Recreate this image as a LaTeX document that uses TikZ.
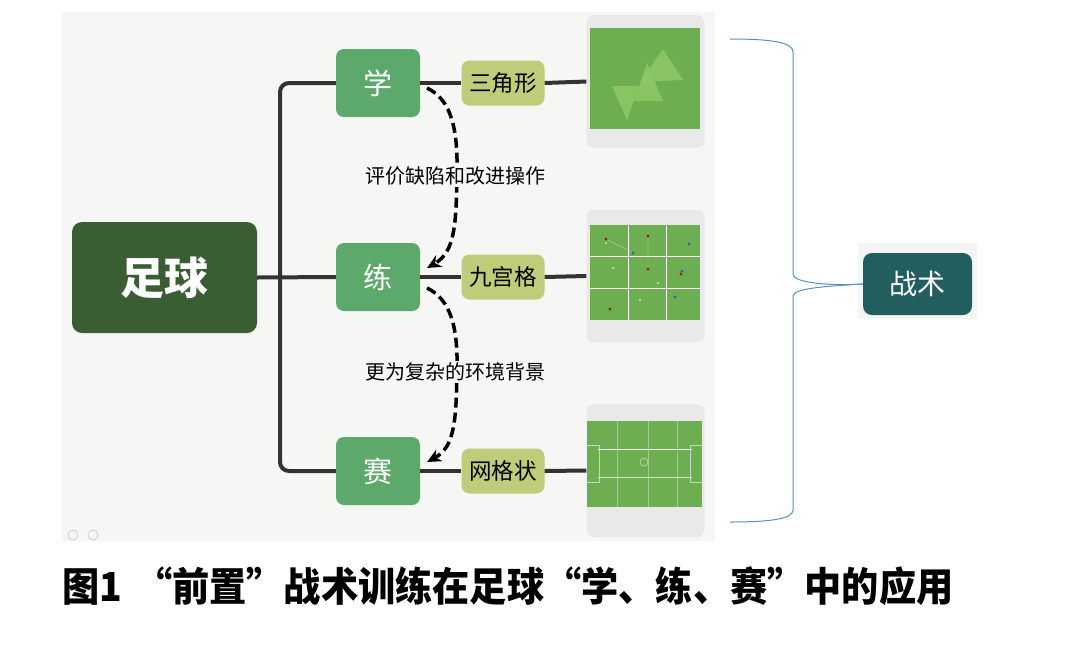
\documentclass[tikz,border=0pt]{standalone}
\usepackage{fontspec}
\setmainfont{Noto Sans CJK SC}
\newfontfamily\cjk{Noto Sans CJK SC}
\usetikzlibrary{arrows.meta}
\definecolor{canvas}{HTML}{F6F6F5}
\definecolor{rootg}{HTML}{3A5D33}
\definecolor{midg}{HTML}{5CA96B}
\definecolor{limeg}{HTML}{C1CC7A}
\definecolor{tealc}{HTML}{235E5E}
\definecolor{linec}{HTML}{333333}
\definecolor{cardc}{HTML}{E9E9E9}
\definecolor{fieldc}{HTML}{6DAE51}
\definecolor{trig}{HTML}{8DC866}
\definecolor{bracec}{HTML}{5B8FC9}
\definecolor{redp}{HTML}{7A2E2A}
\definecolor{bluep}{HTML}{3C5FA0}
\tikzset{
  x=1pt,y=-1pt,
  rootbox/.style={fill=rootg,rounded corners=10pt,minimum width=185pt,minimum height=111pt,text=white,font=\cjk\fontsize{44}{48}\selectfont\bfseries,inner sep=0pt},
  greenbox/.style={fill=midg,rounded corners=8pt,minimum width=84pt,minimum height=68pt,text=white,font=\cjk\fontsize{29}{32}\selectfont,inner sep=0pt},
  limebox/.style={fill=limeg,rounded corners=8pt,minimum width=83pt,minimum height=45pt,text=black,font=\cjk\fontsize{22.5}{24}\selectfont,inner sep=0pt},
  tealbox/.style={fill=tealc,rounded corners=9pt,minimum width=109pt,minimum height=62pt,text=white,font=\cjk\fontsize{28}{30}\selectfont,inner sep=0pt},
  cardbox/.style={fill=cardc,rounded corners=8pt,minimum width=118pt,minimum height=133pt,inner sep=0pt},
  conn/.style={draw=linec,line width=4pt},
  dasharrow/.style={draw=black,line width=3.5pt,dash pattern=on 10pt off 5pt,-{Stealth[length=14pt,width=13pt]}},
  lbl/.style={fill=canvas,text=black,font=\cjk\fontsize{20}{22}\selectfont,inner sep=2pt},
  bracel/.style={draw=bracec,line width=1pt},
  wline/.style={draw=white,line width=0.9pt},
}
\begin{document}
\begin{tikzpicture}
\useasboundingbox (0,0) rectangle (1069,649);
\fill[white] (0,0) rectangle (1069,649);
% canvas
\fill[canvas] (62,12) rectangle (715,541);
\draw[gray!40,line width=0.8pt] (73,535) circle (5);
\draw[gray!40,line width=0.8pt] (93,535) circle (5);

% main nodes
\node[rootbox] (root) at (164.5,277.5) {足球};
\node[greenbox] (xue) at (378,83) {学};
\node[greenbox] (lian) at (378,277) {练};
\node[greenbox] (sai) at (378,471) {赛};
\node[limebox] (tri) at (503,83) {三角形};
\node[limebox] (nine) at (503,277) {九宫格};
\node[limebox] (grid) at (503,471) {网格状};

% cards
\node[cardbox] (card1) at (645.5,81.5) {};
\node[cardbox] (card2) at (645.5,276) {};
\node[cardbox] (card3) at (645.5,470.5) {};

% card 1 field with triangles
\fill[fieldc] (590,28) rectangle (700,129);
\fill[trig,opacity=0.85] (663,49) -- (640,82) -- (683,80) -- cycle;
\fill[trig,opacity=0.85] (647,63) -- (634,101) -- (663,101) -- cycle;
\fill[trig,opacity=0.85] (612,86) -- (639,86) -- (627,120) -- cycle;

% card 2 field: nine grid
\fill[fieldc] (590,225) rectangle (700,320);
\draw[wline] (628,225) -- (628,320);
\draw[wline] (666,225) -- (666,320);
\draw[wline] (590,256) -- (700,256);
\draw[wline] (590,288) -- (700,288);
\draw[white,opacity=0.5,line width=0.4pt] (648,236) -- (648,269) (606,239) -- (633,253);
\foreach \p in {(606,239),(648,236),(648,269),(681,274),(610,309)} \fill[redp] \p circle (1.6);
\foreach \p in {(689,244),(633,253),(682,271),(675,297)} \fill[bluep] \p circle (1.6);
\foreach \p in {(613,268),(658,283),(640,300),(606,243)} \fill[white,opacity=0.8] \p circle (1);

% card 3 field: pitch
\fill[fieldc] (587,421) rectangle (702,507);
\draw[white,opacity=0.35,line width=0.6pt] (617,421) -- (617,507) (648,421) -- (648,507) (677,421) -- (677,507);
\draw[white,line width=0.9pt] (598,449) -- (692,449);
\draw[white,opacity=0.7,line width=0.7pt] (598,477) -- (692,477);
\draw[white,opacity=0.6,line width=0.6pt] (644,462) circle (4);
\draw[white,opacity=0.6,line width=0.6pt] (587,445) -- (599,445) -- (599,482) -- (587,482);
\draw[white,opacity=0.6,line width=0.6pt] (702,445) -- (690,445) -- (690,482) -- (702,482);

% connectors
\coordinate (tr) at (280,277);
\draw[conn,rounded corners=9pt] (xue.west) -| (tr) |- (sai.west);
\draw[conn] (root.east) -- (lian.west);
\draw[conn] (xue.east) -- (tri.west);
\draw[conn] (lian.east) -- (nine.west);
\draw[conn] (sai.east) -- (grid.west);
\draw[conn] (tri.east) -- (card1.west);
\draw[conn] (nine.east) -- (card2.west);
\draw[conn] (grid.east) -- (card3.west);

% dashed arrows
\coordinate (a1s) at (427,88);
\coordinate (a1e) at (427,268);
\coordinate (a2s) at (427,288);
\coordinate (a2e) at (427,462);
\draw[dasharrow] (a1s) .. controls (452,100) and (458,130) .. (457,176) .. controls (456,225) and (455,252) .. (a1e);
\node[lbl] (l1) at (455,176) {评价缺陷和改进操作};
\draw[dasharrow] (a2s) .. controls (452,300) and (458,330) .. (457,372) .. controls (456,420) and (455,447) .. (a2e);
\node[lbl] (l2) at (455,372) {更为复杂的环境背景};

% right side: tactics
\fill[black!4] (858,243) rectangle (977,319);
\node[tealbox] (zs) at (917.5,284) {战术};
\coordinate (bt) at (730,39);
\coordinate (bb) at (730,522);
\draw[bracel] (bt) .. controls (770,39) and (793,42) .. (793,52) -- (793,274) .. controls (793,283) and (830,286) .. (zs.west);
\draw[bracel] (bb) .. controls (770,522) and (793,519) .. (793,510) -- (793,296) .. controls (793,288) and (830,286) .. (zs.west);

% caption
\node[anchor=west,inner sep=0pt,text=black] (cap) at (62,586) {\scalebox{0.93}[1]{\cjk\fontsize{40}{42}\selectfont\bfseries 图1\hspace{0.35em}“前置”战术训练在足球“学、练、赛”中的应用}};
\end{tikzpicture}
\end{document}
